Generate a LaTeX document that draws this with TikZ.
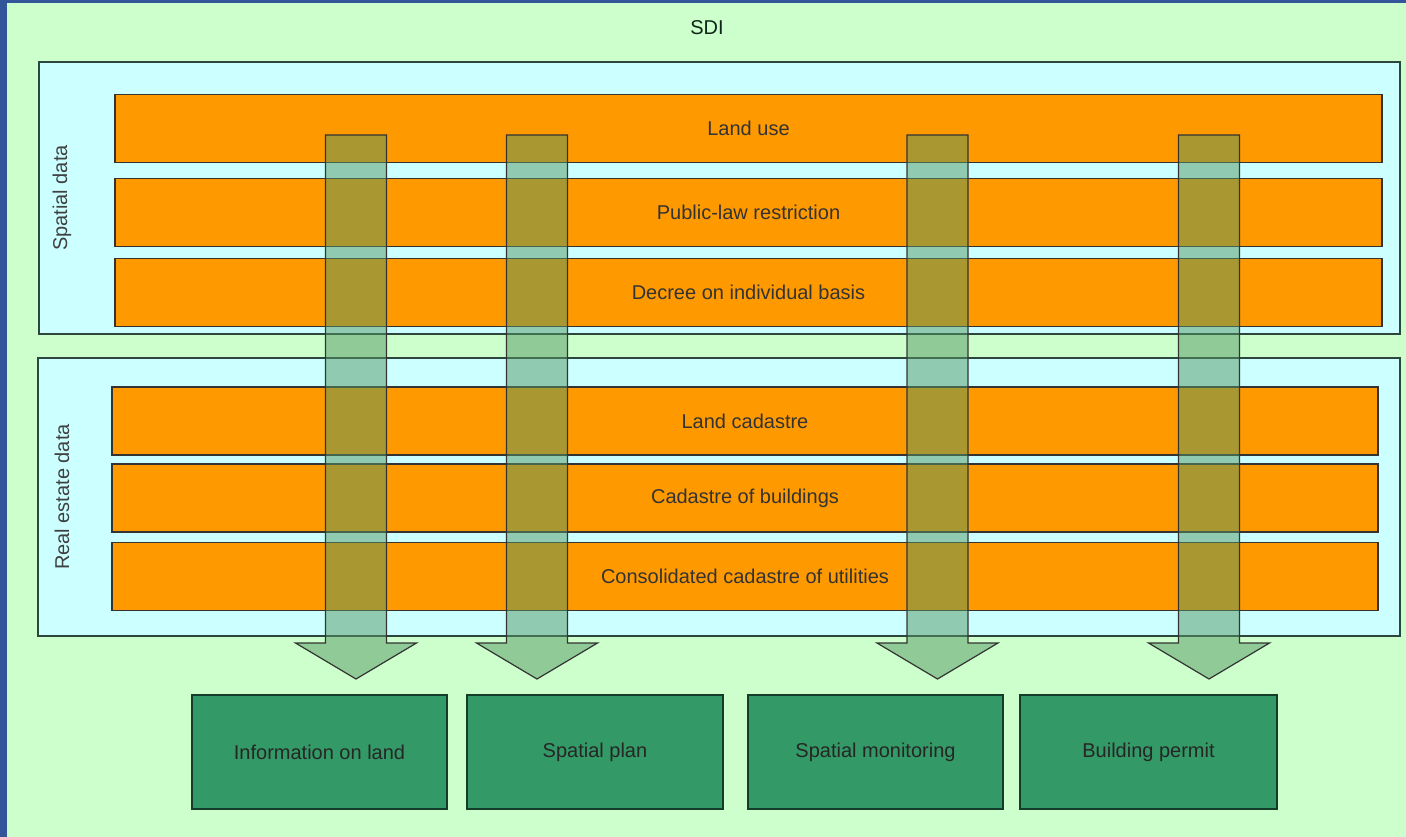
\documentclass[tikz,border=0pt]{standalone}
\usepackage{fontspec}
\setmainfont{Liberation Sans}
\usepackage{tikz}
\definecolor{sdiblue}{RGB}{51,85,153}
\definecolor{sdibg}{RGB}{204,255,204}
\definecolor{sdicyan}{RGB}{204,255,255}
\definecolor{sdiorange}{RGB}{255,153,0}
\definecolor{sdigreen}{RGB}{51,153,102}
\definecolor{sdiflow}{RGB}{85,150,100}
\definecolor{sdiline}{RGB}{45,70,60}
\tikzset{
  sdigroup/.style={fill=sdicyan,draw=sdiline,line width=1.5pt},
  sdibar/.style={rectangle,fill=sdiorange,draw=black!80,line width=1.2pt,
    minimum height=68pt,inner sep=0pt,text=black!80},
  sdiflowarrow/.style={fill=sdiflow,fill opacity=0.5,draw=black!80,line width=1.2pt},
  sdiout/.style={rectangle,fill=sdigreen,draw=black!60!sdigreen,line width=1.5pt,
    minimum height=114pt,inner sep=0pt,text=black!85},
  every picture/.style={font=\fontsize{20}{24}\selectfont}
}

\begin{document}
\begin{tikzpicture}[x=1pt,y=-1pt]
  \useasboundingbox (0,0) rectangle (1406,837);
  \fill[sdiblue] (0,0) rectangle (1406,837);
  \fill[sdibg] (7,3) rectangle (1406,837);
  \node[text=black!75!sdigreen] (sdi) at (707,28) {SDI};

  % groups
  \draw[sdigroup] (39,62) rectangle (1400,334);
  \draw[sdigroup] (38,358) rectangle (1400,636);
  \node[rotate=90,text=black!75] (spatial) at (62,198) {Spatial data};
  \node[rotate=90,text=black!75] (realestate) at (62,497) {Real estate data};

  % layers
  \node[sdibar,minimum width=1267pt] (landuse) at (748.5,128.5) {Land use};
  \node[sdibar,minimum width=1267pt] (publaw) at (748.5,212.5) {Public-law restriction};
  \node[sdibar,minimum width=1267pt] (decree) at (748.5,292.5) {Decree on individual basis};
  \node[sdibar,minimum width=1266pt] (landcad) at (745,421) {Land cadastre};
  \node[sdibar,minimum width=1266pt] (buildcad) at (745,498) {Cadastre of buildings};
  \node[sdibar,minimum width=1266pt] (utilcad) at (745,576.5) {Consolidated cadastre of utilities};

  % flows
  \foreach \ax [count=\i] in {356,537,937.5,1209}{
    \coordinate (tip\i) at (\ax,679);
    \draw[sdiflowarrow] (\ax-30.5,135) -- (\ax+30.5,135) -- (\ax+30.5,643)
      -- (\ax+60.5,643) -- (tip\i) -- (\ax-60.5,643) -- (\ax-30.5,643) -- cycle;
  }

  % outputs
  \node[sdiout,minimum width=255pt] (infoland) at (319.5,752) {Information on land};
  \node[sdiout,minimum width=256pt] (spplan) at (595,752) {Spatial plan};
  \node[sdiout,minimum width=255pt] (spmon) at (875.5,752) {Spatial monitoring};
  \node[sdiout,minimum width=257pt] (permit) at (1148.5,752) {Building permit};
\end{tikzpicture}
\end{document}
